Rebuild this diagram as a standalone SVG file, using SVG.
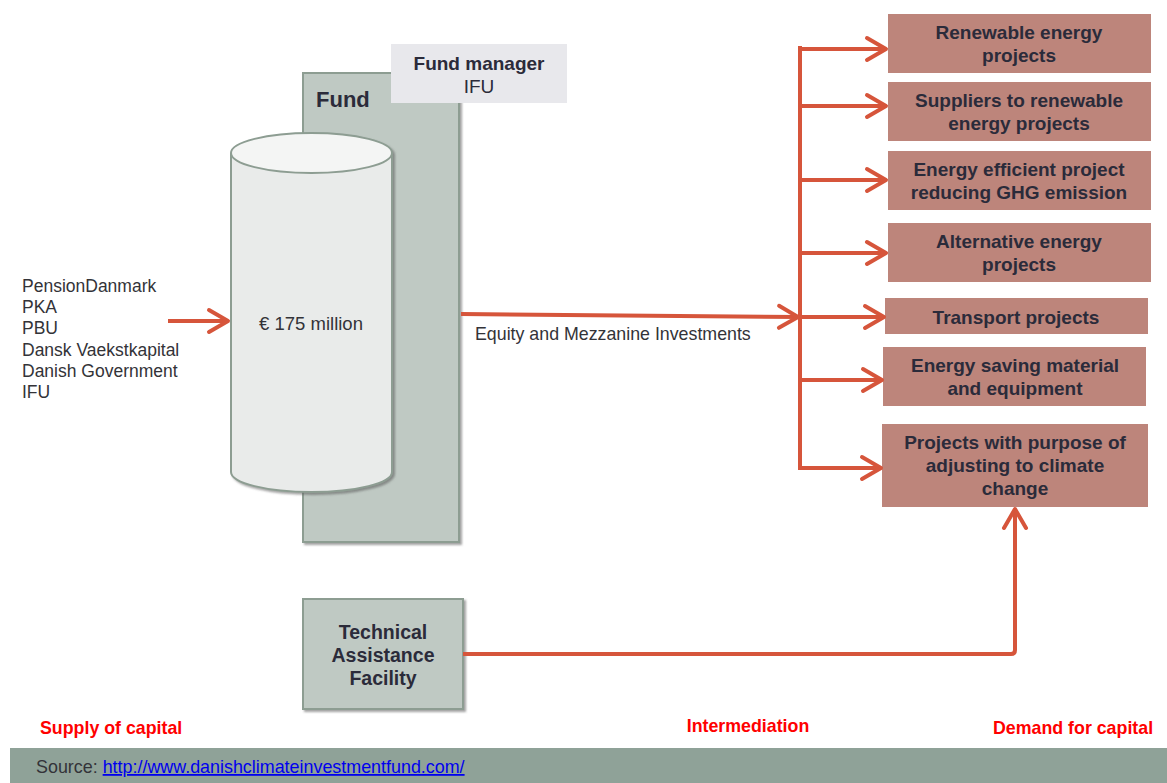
<svg xmlns="http://www.w3.org/2000/svg" width="1167" height="783" viewBox="0 0 1167 783">
  <style>
    .sans { font-family: "Liberation Sans", Arial, sans-serif; }
    .list { font-size: 17.5px; fill: #333338; }
    .target rect { fill: #bd857b; }
    .target text { font-size: 19px; font-weight: bold; fill: #2b2b3a; text-anchor: middle; }
    .panel { fill: #bfc9c3; stroke: #8d9d92; stroke-width: 2; }
    .flow { fill: none; stroke: #d6553b; stroke-width: 4; }
    .axis { font-size: 17.8px; font-weight: bold; fill: #ff0000; }
  </style>
  <defs>
    <filter id="shade" x="-10%" y="-10%" width="130%" height="130%">
      <feDropShadow dx="2" dy="2" stdDeviation="1.2" flood-color="#555" flood-opacity="0.55"/>
    </filter>
    <marker id="head" markerUnits="userSpaceOnUse" markerWidth="30" markerHeight="30" viewBox="0 0 30 30" refX="24" refY="15" orient="auto">
      <path d="M5,4 L24,15 L5,26" fill="none" stroke="#d6553b" stroke-width="4" stroke-linecap="round" stroke-linejoin="round"/>
    </marker>
  </defs>

  <rect width="1167" height="783" fill="#ffffff"/>

  <!-- Fund panel with cylinder -->
  <g id="fund">
    <rect class="panel" x="303" y="73" width="156" height="469" filter="url(#shade)"/>
    <text class="sans" x="316" y="107" font-size="22" font-weight="bold" fill="#2b2b3a">Fund</text>
  </g>

  <g id="fund-manager">
    <rect x="391" y="44" width="176" height="59" fill="#e8e8ec"/>
    <text class="sans" x="479" y="70" font-size="19" font-weight="bold" fill="#2b2b3a" text-anchor="middle">Fund manager</text>
    <text class="sans" x="479" y="93" font-size="19" fill="#2b2b3a" text-anchor="middle">IFU</text>
  </g>

  <g id="capital-pool" filter="url(#shade)">
    <path d="M231,153 L231,472 A80.5,20 0 0 0 392,472 L392,153" fill="#e9ebea" stroke="#8d9d92" stroke-width="2"/>
    <ellipse cx="311.5" cy="153" rx="80.5" ry="20" fill="#f4f5f4" stroke="#8d9d92" stroke-width="2"/>
  </g>
  <text class="sans" x="311" y="330" font-size="18.5" fill="#333338" text-anchor="middle">€ 175 million</text>

  <!-- Investors -->
  <g id="investors" class="sans list">
    <text x="22" y="292">PensionDanmark</text>
    <text x="22" y="313">PKA</text>
    <text x="22" y="334">PBU</text>
    <text x="22" y="356">Dansk Vaekstkapital</text>
    <text x="22" y="377">Danish Government</text>
    <text x="22" y="398">IFU</text>
  </g>

  <!-- Technical Assistance Facility -->
  <g id="taf">
    <rect class="panel" x="303" y="599" width="160" height="110" filter="url(#shade)"/>
    <text class="sans" x="383" y="639" font-size="19.5" font-weight="bold" fill="#2b2b3a" text-anchor="middle">Technical</text>
    <text class="sans" x="383" y="662" font-size="19.5" font-weight="bold" fill="#2b2b3a" text-anchor="middle">Assistance</text>
    <text class="sans" x="383" y="685" font-size="19.5" font-weight="bold" fill="#2b2b3a" text-anchor="middle">Facility</text>
  </g>

  <!-- Project categories -->
  <g id="t1" class="target sans">
    <rect x="888" y="14" width="263" height="59"/>
    <text x="1019" y="39">Renewable energy</text>
    <text x="1019" y="62">projects</text>
  </g>
  <g id="t2" class="target sans">
    <rect x="888" y="82" width="263" height="59"/>
    <text x="1019" y="107">Suppliers to renewable</text>
    <text x="1019" y="130">energy projects</text>
  </g>
  <g id="t3" class="target sans">
    <rect x="888" y="151" width="263" height="59"/>
    <text x="1019" y="176">Energy efficient project</text>
    <text x="1019" y="199">reducing GHG emission</text>
  </g>
  <g id="t4" class="target sans">
    <rect x="888" y="223" width="263" height="59"/>
    <text x="1019" y="248">Alternative energy</text>
    <text x="1019" y="271">projects</text>
  </g>
  <g id="t5" class="target sans">
    <rect x="885" y="298" width="263" height="36"/>
    <text x="1016" y="324">Transport projects</text>
  </g>
  <g id="t6" class="target sans">
    <rect x="883" y="347" width="263" height="59"/>
    <text x="1015" y="372">Energy saving material</text>
    <text x="1015" y="395">and equipment</text>
  </g>
  <g id="t7" class="target sans">
    <rect x="882" y="424" width="266" height="83"/>
    <text x="1015" y="449">Projects with purpose of</text>
    <text x="1015" y="472">adjusting to climate</text>
    <text x="1015" y="495">change</text>
  </g>

  <!-- Connectors -->
  <g id="connectors">
    <line class="flow" x1="168" y1="321" x2="228" y2="321" marker-end="url(#head)"/>
    <line class="flow" x1="461" y1="314" x2="798" y2="317" marker-end="url(#head)"/>
    <line class="flow" x1="800" y1="46" x2="800" y2="470"/>
    <line class="flow" x1="798" y1="49" x2="886" y2="49" marker-end="url(#head)"/>
    <line class="flow" x1="798" y1="106" x2="886" y2="106" marker-end="url(#head)"/>
    <line class="flow" x1="798" y1="180" x2="886" y2="180" marker-end="url(#head)"/>
    <line class="flow" x1="798" y1="253" x2="886" y2="253" marker-end="url(#head)"/>
    <line class="flow" x1="798" y1="317" x2="884" y2="317" marker-end="url(#head)"/>
    <line class="flow" x1="798" y1="380" x2="882" y2="380" marker-end="url(#head)"/>
    <line class="flow" x1="798" y1="468" x2="881" y2="468" marker-end="url(#head)"/>
    <path class="flow" d="M463,654 L1011,654 Q1015,654 1015,650 L1015,509" stroke-linejoin="round" marker-end="url(#head)"/>
  </g>
  <text class="sans" x="475" y="340" font-size="17.8" fill="#333338">Equity and Mezzanine Investments</text>

  <!-- Axis labels -->
  <text class="sans axis" x="40" y="734">Supply of capital</text>
  <text class="sans axis" x="748" y="732" text-anchor="middle">Intermediation</text>
  <text class="sans axis" x="993" y="734">Demand for capital</text>

  <!-- Footer -->
  <rect x="10" y="748" width="1157" height="35" fill="#8fa298"/>
  <text class="sans" x="36" y="773" font-size="17.9" fill="#333338">Source: <tspan fill="#0000ee" text-decoration="underline">http://www.danishclimateinvestmentfund.com/</tspan></text>
</svg>
